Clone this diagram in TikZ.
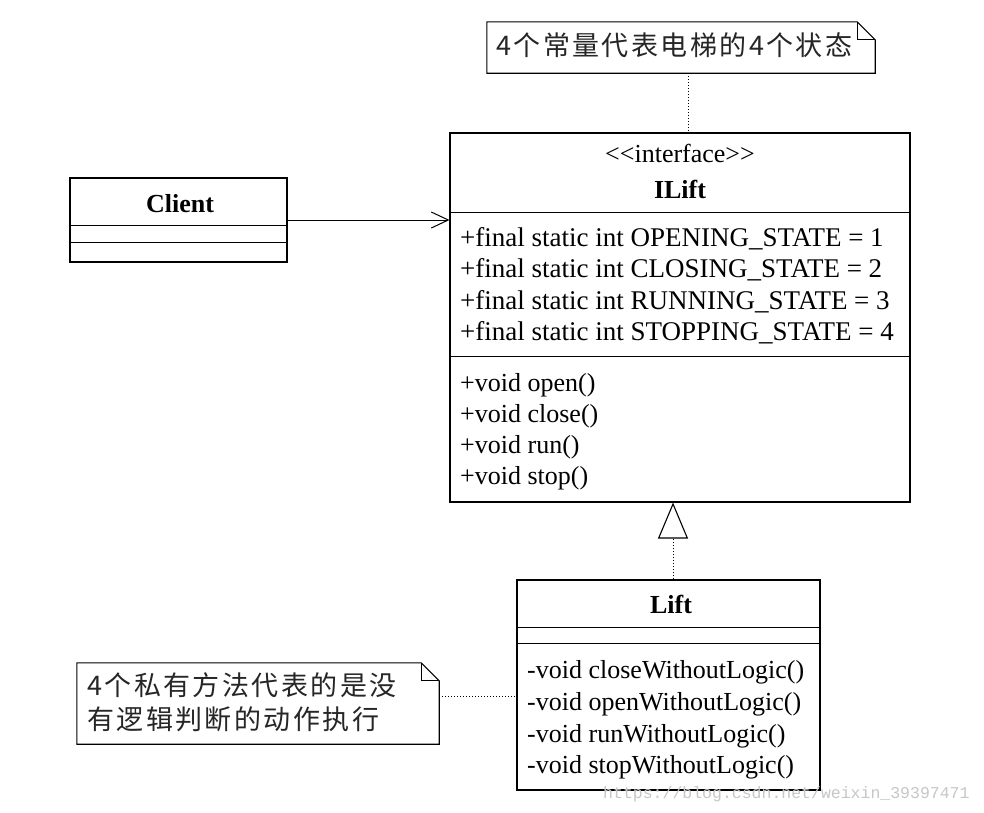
\documentclass[tikz,border=0pt]{standalone}
\usepackage{fontspec}
\setmainfont{Liberation Serif}
\newfontfamily\cjk[LetterSpace=9]{Noto Sans CJK SC}
\newfontfamily\wmfont{Liberation Mono}
\usetikzlibrary{arrows.meta}
\begin{document}
\begin{tikzpicture}[x=1pt,y=-1pt,
  ln/.style={line width=1.1pt, line join=miter},
  box/.style={draw, ln, rectangle, inner sep=0pt},
  shapebox/.style={rectangle, inner sep=0pt},
  txt/.style={anchor=base west, inner sep=0pt, font=\fontsize{26}{31}\selectfont},
  atxt/.style={anchor=base west, inner sep=0pt, font=\fontsize{27}{31}\selectfont},
  ctxt/.style={anchor=base, inner sep=0pt, font=\fontsize{26}{31}\selectfont},
  btxt/.style={anchor=base, inner sep=0pt, font=\fontsize{26}{31}\selectfont\bfseries},
  cjktxt/.style={anchor=base west, inner sep=0pt, font=\cjk\fontsize{27}{30}\selectfont, text=black!85},
  dotline/.style={line width=1pt, dotted},
  assoc/.style={line width=1pt, -{Straight Barb[length=17pt,width=16pt,line width=1pt]}},
  realize/.style={line width=1pt, dotted, -{Triangle[open,length=36pt,width=30pt,line width=1.1pt]}}
]
\useasboundingbox[fill=white] (0,0) rectangle (984,812);

% ---------- ILift ----------
\node[box, minimum width=460pt, minimum height=369pt] (ilift) at (680,317.5) {};
\draw[ln] ([yshift=-80pt]ilift.north west) -- ([yshift=-80pt]ilift.north east);
\draw[ln] ([yshift=-224pt]ilift.north west) -- ([yshift=-224pt]ilift.north east);
\node[ctxt] (istereo) at (680,162) {{<}{<}interface{>}{>}};
\node[btxt] (iname) at (680,198) {ILift};
\node[atxt] (ia1) at (460,246) {+final static int OPENING\_STATE = 1};
\node[atxt] (ia2) at (460,277) {+final static int CLOSING\_STATE = 2};
\node[atxt] (ia3) at (460,309) {+final static int RUNNING\_STATE = 3};
\node[atxt] (ia4) at (460,340) {+final static int STOPPING\_STATE = 4};
\node[txt] (im1) at (460,391) {+void open()};
\node[txt] (im2) at (460,422) {+void close()};
\node[txt] (im3) at (460,453) {+void run()};
\node[txt] (im4) at (460,484) {+void stop()};

% ---------- Client ----------
\node[box, minimum width=217pt, minimum height=84pt] (client) at (178.5,220) {};
\draw[ln] ([yshift=-48pt]client.north west) -- ([yshift=-48pt]client.north east);
\draw[ln] ([yshift=-65pt]client.north west) -- ([yshift=-65pt]client.north east);
\node[btxt] (cname) at (180,212) {Client};

% ---------- Lift ----------
\node[box, minimum width=303pt, minimum height=210pt] (lift) at (668.5,685) {};
\draw[ln] ([yshift=-48pt]lift.north west) -- ([yshift=-48pt]lift.north east);
\draw[ln] ([yshift=-64pt]lift.north west) -- ([yshift=-64pt]lift.north east);
\node[btxt] (lname) at (671,613) {Lift};
\node[txt] (lm1) at (527,678) {-void closeWithoutLogic()};
\node[txt] (lm2) at (527,710) {-void openWithoutLogic()};
\node[txt] (lm3) at (527,742) {-void runWithoutLogic()};
\node[txt] (lm4) at (527,773) {-void stopWithoutLogic()};

% ---------- notes ----------
\node[shapebox, minimum width=388pt, minimum height=51pt] (topnote) at (681,47.5) {};
\draw[ln] (topnote.north west) -- ([xshift=-18pt]topnote.north east)
  -- ([yshift=-18pt]topnote.north east) -- (topnote.south east)
  -- (topnote.south west) -- cycle;
\draw[ln] ([xshift=-18pt]topnote.north east) -- ([xshift=-18pt,yshift=-18pt]topnote.north east)
  -- ([yshift=-18pt]topnote.north east);
\node[cjktxt] (topnotetext) at (496,55) {4个常量代表电梯的4个状态};

\node[shapebox, minimum width=362pt, minimum height=81pt] (botnote) at (258,703.5) {};
\draw[ln] (botnote.north west) -- ([xshift=-18pt]botnote.north east)
  -- ([yshift=-18pt]botnote.north east) -- (botnote.south east)
  -- (botnote.south west) -- cycle;
\draw[ln] ([xshift=-18pt]botnote.north east) -- ([xshift=-18pt,yshift=-18pt]botnote.north east)
  -- ([yshift=-18pt]botnote.north east);
\node[cjktxt] (botnotetext1) at (87,695) {4个私有方法代表的是没};
\node[cjktxt] (botnotetext2) at (87,729) {有逻辑判断的动作执行};

% ---------- connectors ----------
\coordinate (nx) at (688,0);
\draw[dotline] (topnote.south -| nx) -- (ilift.north -| nx);
\draw[assoc] (client.east) -- (client.east -| ilift.west);
\coordinate (gx) at (673,0);
\draw[realize] (lift.north -| gx) -- (ilift.south -| gx);
\coordinate (ny) at (0,696);
\draw[dotline] (botnote.east |- ny) -- (lift.west |- ny);

% ---------- watermark ----------
\node[anchor=base west, inner sep=0pt, font=\wmfont\fontsize{16.5}{18}\selectfont, text=black!22] (wm) at (603,798) {https://blog.csdn.net/weixin\_39397471};
\end{tikzpicture}
\end{document}
